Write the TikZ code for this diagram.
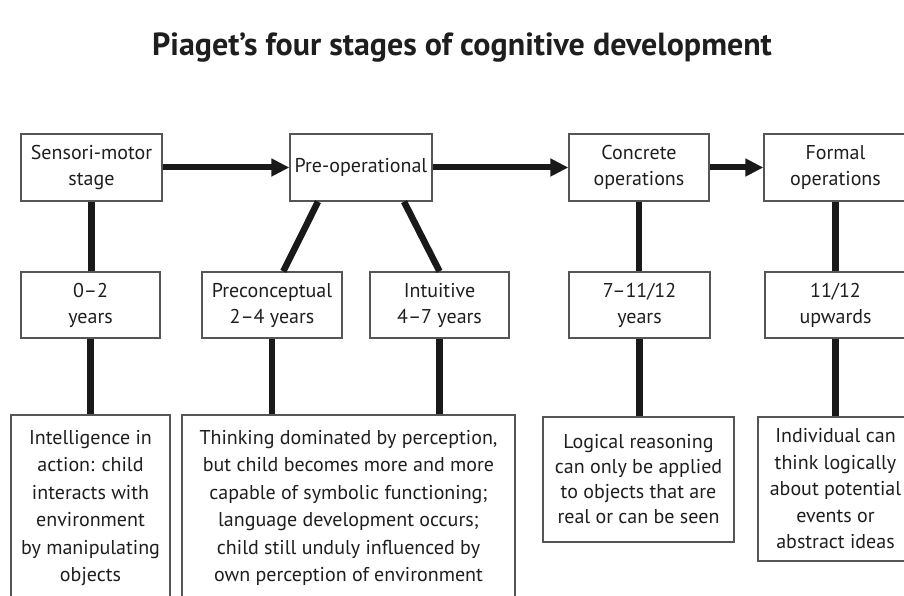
\documentclass[tikz,border=0pt]{standalone}
\usepackage{fontspec}
\setmainfont{PT Sans}
\usetikzlibrary{positioning, arrows.meta, calc}

\begin{document}
\begin{tikzpicture}[x=1pt, y=-1pt,
  stagebox/.style={draw=boxgray, line width=1.3pt, align=center, inner sep=1pt,
    text=textblack, font=\fontsize{20}{26}\selectfont},
  notebox/.style={stagebox, font=\fontsize{20}{27.5}\selectfont},
  link/.style={draw=linkblack, line width=6.5pt},
  arrowlink/.style={link, line width=6pt, -{Triangle[length=18pt, width=17pt]}}]

% Define colors
\definecolor{boxgray}{RGB}{85,85,85}
\definecolor{linkblack}{RGB}{25,25,25}
\definecolor{textblack}{RGB}{30,30,30}

% Page area
\useasboundingbox (0,0) rectangle (904,596);
\clip (0,0) rectangle (904,596);

% Title
\node[text=textblack, font=\bfseries\fontsize{32}{36}\selectfont] (title) at (462,48) {Piaget’s four stages of cognitive development};

% Stages
\node[stagebox, minimum width=141pt, minimum height=67pt] (sensori) at (91.5,167.5) {Sensori-motor\\stage};
\node[stagebox, minimum width=142pt, minimum height=67pt] (preop) at (361,167.5) {Pre-operational};
\node[stagebox, minimum width=140pt, minimum height=67pt] (concrete) at (639,167.5) {Concrete\\operations};
\node[stagebox, minimum width=143pt, minimum height=67pt] (formal) at (835.5,167.5) {Formal\\operations};

% Ages
\node[stagebox, minimum width=139pt, minimum height=66pt] (age1) at (90.5,305) {0–2\\years};
\node[stagebox, minimum width=140pt, minimum height=66pt] (precon) at (272,305) {Preconceptual\\2–4 years};
\node[stagebox, minimum width=139pt, minimum height=66pt] (intuit) at (439.5,305) {Intuitive\\4–7 years};
\node[stagebox, minimum width=141pt, minimum height=66pt] (age3) at (639.5,305) {7–11/12\\years};
\node[stagebox, minimum width=141pt, minimum height=66pt] (age4) at (835.5,305) {11/12\\upwards};

% Descriptions
\node[notebox, minimum width=159pt, minimum height=186pt] (intel) at (90.5,508) {Intelligence in\\action: child\\interacts with\\environment\\by manipulating\\objects};
\node[notebox, minimum width=333pt, minimum height=186pt] (thinking) at (348.5,508) {Thinking dominated by perception,\\but child becomes more and more\\capable of symbolic functioning;\\language development occurs;\\child still unduly influenced by\\own perception of environment};
\node[stagebox, font=\fontsize{20}{25}\selectfont, minimum width=191pt, minimum height=125pt] (logical) at (638.5,479.5) {Logical reasoning\\can only be applied\\to objects that are\\real or can be seen};
\node[notebox, font=\fontsize{20}{26.5}\selectfont, minimum width=155pt, minimum height=144pt] (indiv) at (835.5,489) {Individual can\\think logically\\about potential\\events or\\abstract ideas};

% Arrows between stages
\draw[arrowlink] (sensori) -- (preop);
\draw[arrowlink] (preop) -- (concrete);
\draw[arrowlink] (concrete) -- (formal);

% Stage to age
\draw[link] (sensori.south) -- (sensori.south |- age1.north);
\draw[link] ($(preop.south west)!0.2!(preop.south east)$) -- ($(precon.north west)!0.58!(precon.north east)$);
\draw[link] ($(preop.south west)!0.8!(preop.south east)$) -- ($(intuit.north west)!0.5!(intuit.north east)$);
\draw[link] (concrete.south) -- (concrete.south |- age3.north);
\draw[link] (formal.south) -- (formal.south |- age4.north);

% Age to description
\draw[link] (age1.south) -- (age1.south |- intel.north);
\draw[link] (precon.south) -- (precon.south |- thinking.north);
\draw[link] (intuit.south) -- (intuit.south |- thinking.north);
\draw[link] (age3.south) -- (age3.south |- logical.north);
\draw[link] (age4.south) -- (age4.south |- indiv.north);

\end{tikzpicture}
\end{document}
